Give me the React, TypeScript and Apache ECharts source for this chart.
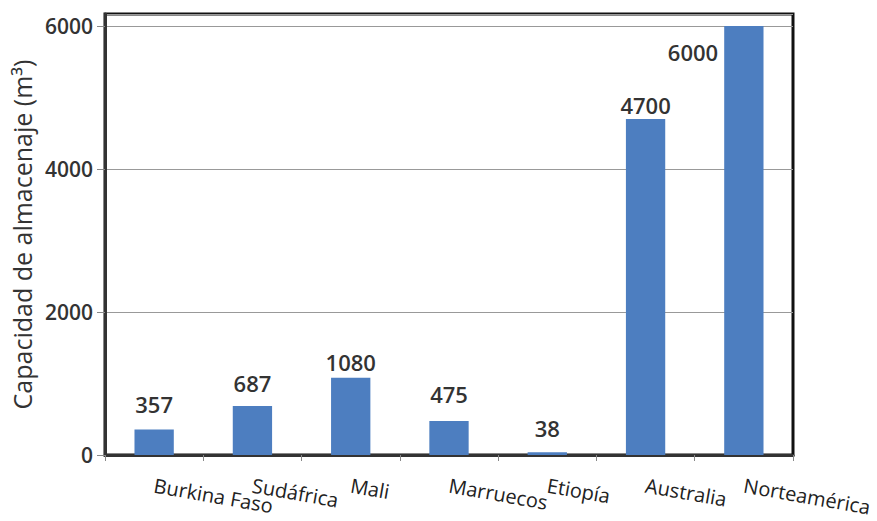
import React, { useEffect, useRef } from "react";
import * as echarts from "echarts";

const categories = ["Burkina Faso", "Sudáfrica", "Mali", "Marruecos", "Etiopía", "Australia", "Norteamérica"];
const values = [357, 687, 1080, 475, 38, 4700, 6000];
const yTicks = [0, 2000, 4000, 6000];
const yTitle = "Capacidad de almacenaje (m³)";

const FONT = "'Open Sans', 'Noto Sans', sans-serif";

export default function App() {
  const ref = useRef<HTMLDivElement>(null);
  useEffect(() => {
    if (!ref.current) return;
    const chart = echarts.init(ref.current, undefined, { renderer: "svg" });
    const distances = [14, 12, 5, 16, 13, 3, 0];
    const data = values.map((v, i) => {
      if (i === values.length - 1) {
        return {
          value: v,
          label: {
            position: [-6, 26],
            align: "right",
            verticalAlign: "middle",
          },
        };
      }
      return { value: v, label: { distance: distances[i] } };
    });
    chart.setOption({
      animation: false,
      backgroundColor: "#ffffff",
      grid: {
        left: 105,
        right: 84,
        top: 14,
        bottom: 66,
        show: true,
        borderColor: "#111111",
        borderWidth: 3,
        backgroundColor: "transparent",
      },
      xAxis: {
        type: "category",
        data: categories,
        axisLine: { show: true, lineStyle: { color: "#333333", width: 3 } },
        axisTick: { show: true, length: 6, lineStyle: { color: "#888888", width: 1 } },
        axisLabel: {
          rotate: -10,
          margin: 30,
          interval: 0,
          fontFamily: FONT,
          fontSize: 20,
          color: "#222222",
        },
      },
      yAxis: {
        type: "value",
        min: yTicks[0],
        max: 6168,
        interval: 2000,
        name: yTitle,
        nameLocation: "middle",
        nameGap: 68,
        nameTextStyle: { fontFamily: FONT, fontSize: 25, color: "#333333" },
        axisLine: { show: true, lineStyle: { color: "#333333", width: 3 } },
        axisTick: { show: true, length: 8, lineStyle: { color: "#888888" } },
        axisLabel: {
          showMaxLabel: false,
          margin: 12,
          formatter: (v: number) => String(v),
          fontFamily: FONT,
          fontSize: 21,
          fontWeight: 600,
          color: "#333333",
        },
        splitLine: { show: true, lineStyle: { color: "#999999", width: 1 } },
      },
      series: [
        {
          type: "bar",
          data,
          barWidth: "40%",
          itemStyle: { color: "#4d7ec0" },
          label: {
            show: true,
            position: "top",
            fontFamily: FONT,
            fontSize: 22,
            fontWeight: 600,
            color: "#333333",
          },
        },
      ],
    });
    return () => chart.dispose();
  }, []);
  return <div ref={ref} style={{ width: 877, height: 521, position: "absolute", left: 0, top: 0 }} />;
}
